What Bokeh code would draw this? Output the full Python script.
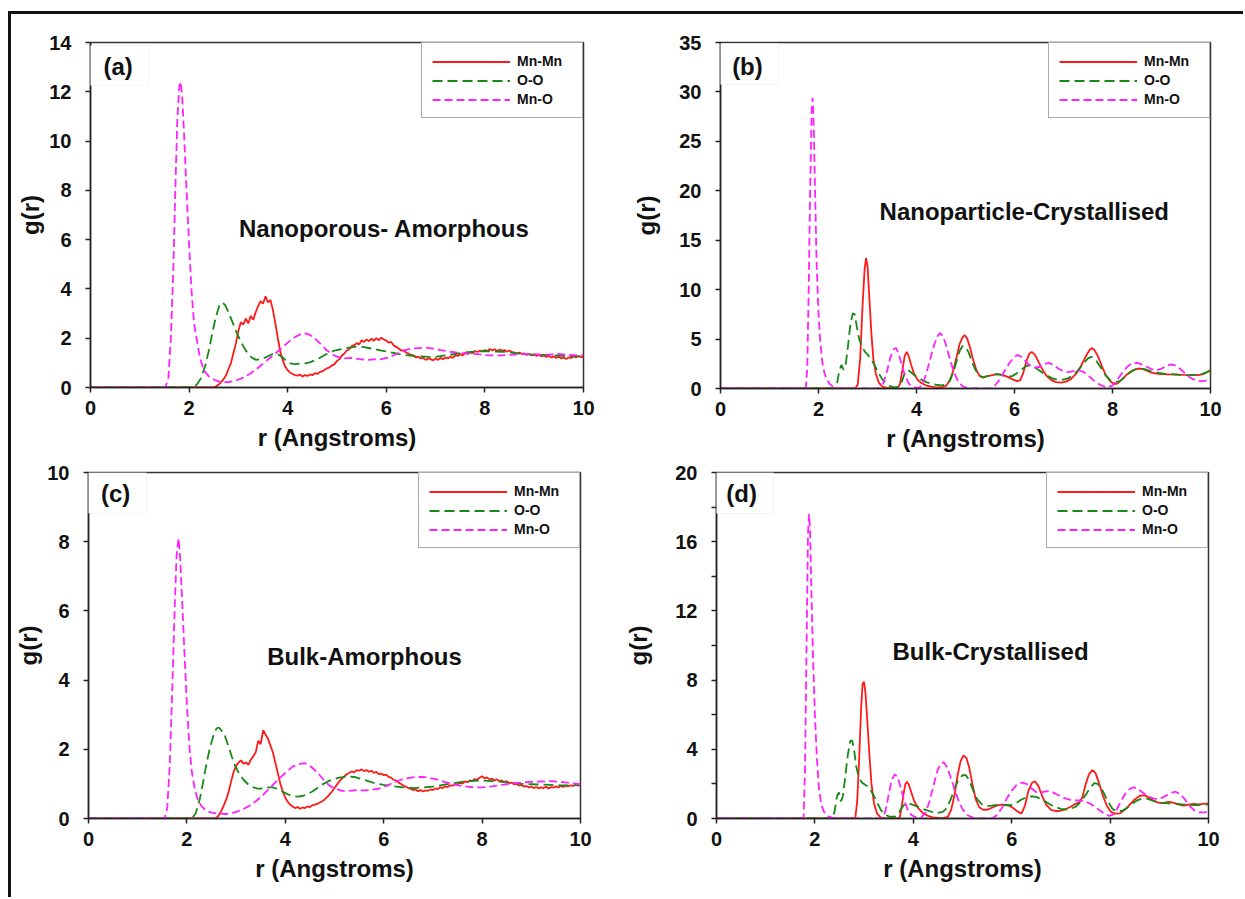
from bokeh.plotting import figure
from bokeh.models import (Range1d, FixedTicker, Label, BoxAnnotation, Legend,
                          LegendItem)
from bokeh.layouts import column, row
from bokeh.embed import file_html
from bokeh.resources import INLINE

FONT = "Liberation Sans"
INK = "#111111"
RED = "#ff1a1a"
GREEN = "#168a16"
MAGENTA = "#ff22ff"

SERIES_NAMES = ["Mn-Mn", "O-O", "Mn-O"]
PANEL_TAGS = ["(a)", "(b)", "(c)", "(d)"]
PANEL_TITLES = ["Nanoporous- Amorphous", "Nanoparticle-Crystallised",
                "Bulk-Amorphous", "Bulk-Crystallised"]
X_TICKS = [0, 2, 4, 6, 8, 10]

# sampling grid used for the noisy amorphous Mn-Mn curves (2.50 .. 10.00 A)
r_fine = [round(2.5 + 0.05 * i, 2) for i in range(151)]

# ---------------- (a) nanoporous, amorphous ----------------
mnmn_a_g = [
    0.0, 0.05, 0.12, 0.22, 0.34, 0.5, 0.75, 1.0, 1.4, 1.8,
    2.3, 2.65, 2.55, 2.8, 2.6, 2.9, 2.75, 3.05, 3.3, 3.5,
    3.4, 3.7, 3.45, 3.55, 3.15, 2.6, 2.0, 1.45, 1.1, 0.85,
    0.7, 0.6, 0.55, 0.5, 0.48, 0.52, 0.45, 0.5, 0.47, 0.53,
    0.5, 0.58, 0.55, 0.62, 0.65, 0.72, 0.78, 0.82, 0.9, 0.95,
    1.08, 1.15, 1.3, 1.38, 1.5, 1.55, 1.68, 1.72, 1.8, 1.75,
    1.92, 1.85, 1.95, 1.88, 1.98, 1.9, 2.0, 1.92, 2.02, 1.95,
    1.9, 1.82, 1.85, 1.7, 1.65, 1.58, 1.5, 1.52, 1.42, 1.38,
    1.32, 1.3, 1.22, 1.25, 1.18, 1.2, 1.12, 1.18, 1.15, 1.1,
    1.18, 1.12, 1.2, 1.15, 1.22, 1.18, 1.25, 1.2, 1.3, 1.28,
    1.35, 1.3, 1.4, 1.36, 1.42, 1.4, 1.48, 1.44, 1.5, 1.46,
    1.52, 1.48, 1.56, 1.5, 1.55, 1.48, 1.54, 1.5, 1.52, 1.45,
    1.5, 1.44, 1.42, 1.38, 1.42, 1.36, 1.38, 1.32, 1.36, 1.3,
    1.33, 1.28, 1.32, 1.26, 1.3, 1.24, 1.28, 1.22, 1.26, 1.2,
    1.25, 1.18, 1.22, 1.16, 1.22, 1.2, 1.26, 1.22, 1.27, 1.23,
    1.25,
]
oo_a = [
    (0, 0), (2.05, 0), (2.15, 0.1), (2.25, 0.4), (2.33, 0.9), (2.4, 1.5),
    (2.47, 2.2), (2.54, 2.85), (2.61, 3.3), (2.67, 3.45), (2.73, 3.35),
    (2.8, 3.05), (2.88, 2.65), (2.96, 2.25), (3.04, 1.9), (3.12, 1.6),
    (3.2, 1.35), (3.28, 1.2), (3.36, 1.12), (3.45, 1.15), (3.55, 1.22),
    (3.65, 1.32), (3.72, 1.38), (3.8, 1.35), (3.88, 1.25), (3.96, 1.1),
    (4.05, 0.98), (4.15, 0.95), (4.25, 0.97), (4.35, 0.98), (4.45, 1.02),
    (4.55, 1.1), (4.65, 1.2), (4.75, 1.32), (4.85, 1.42), (4.95, 1.5),
    (5.1, 1.56), (5.25, 1.62), (5.4, 1.66), (5.55, 1.64), (5.7, 1.58),
    (5.85, 1.52), (6.0, 1.46), (6.15, 1.4), (6.3, 1.34), (6.45, 1.3),
    (6.6, 1.27), (6.8, 1.25), (7.0, 1.24), (7.2, 1.3), (7.4, 1.36),
    (7.6, 1.42), (7.8, 1.46), (8.0, 1.48), (8.2, 1.46), (8.4, 1.45),
    (8.6, 1.4), (8.8, 1.36), (9.0, 1.33), (9.2, 1.32), (9.4, 1.3),
    (9.6, 1.28), (9.8, 1.27), (10.0, 1.28),
]
mno_a = [
    (0, 0), (1.52, 0), (1.58, 0.4), (1.63, 2.0), (1.68, 4.8), (1.72, 8.0),
    (1.76, 10.8), (1.8, 12.2), (1.83, 12.4), (1.86, 11.8), (1.9, 10.2),
    (1.95, 7.9), (2.0, 5.8), (2.05, 3.9), (2.1, 2.6), (2.16, 1.9),
    (2.22, 1.2), (2.3, 0.7), (2.4, 0.45), (2.52, 0.3), (2.65, 0.22),
    (2.8, 0.22), (2.95, 0.28), (3.1, 0.4), (3.25, 0.58), (3.4, 0.8),
    (3.55, 1.05), (3.7, 1.3), (3.85, 1.55), (4.0, 1.82), (4.15, 2.05),
    (4.3, 2.2), (4.4, 2.18), (4.5, 2.08), (4.6, 1.9), (4.7, 1.7),
    (4.8, 1.5), (4.9, 1.35), (5.0, 1.25), (5.15, 1.18), (5.3, 1.2),
    (5.45, 1.15), (5.6, 1.12), (5.75, 1.14), (5.9, 1.15), (6.05, 1.22),
    (6.2, 1.35), (6.35, 1.5), (6.5, 1.58), (6.65, 1.6), (6.8, 1.62),
    (6.95, 1.58), (7.1, 1.52), (7.3, 1.45), (7.5, 1.4), (7.7, 1.38),
    (7.9, 1.34), (8.1, 1.3), (8.3, 1.3), (8.5, 1.32), (8.7, 1.35),
    (8.9, 1.36), (9.1, 1.34), (9.3, 1.33), (9.5, 1.36), (9.7, 1.32),
    (9.9, 1.3), (10.0, 1.32),
]

# ---------------- (b) nanoparticle, crystallised ----------------
mnmn_b = [
    (0, 0), (2.75, 0), (2.8, 0.4), (2.85, 3.0), (2.9, 8.5), (2.94, 12.0),
    (2.97, 13.2), (3.0, 12.4), (3.04, 9.0), (3.08, 5.5), (3.12, 3.0),
    (3.17, 1.5), (3.23, 0.6), (3.3, 0.2), (3.4, 0.05), (3.6, 0),
    (3.66, 0.4), (3.71, 1.8), (3.76, 3.3), (3.8, 3.7), (3.84, 3.3),
    (3.89, 2.4), (3.95, 1.5), (4.02, 0.9), (4.1, 0.55), (4.2, 0.3),
    (4.3, 0.18), (4.4, 0.12), (4.5, 0.12), (4.6, 0.25), (4.68, 0.8),
    (4.75, 1.8), (4.82, 3.2), (4.88, 4.5), (4.94, 5.2), (4.98, 5.4),
    (5.03, 5.1), (5.09, 4.2), (5.15, 3.0), (5.22, 1.9), (5.29, 1.25),
    (5.36, 1.1), (5.45, 1.25), (5.55, 1.35), (5.65, 1.45), (5.75, 1.38),
    (5.85, 1.2), (5.95, 0.95), (6.05, 0.75), (6.12, 0.85), (6.18, 1.6),
    (6.24, 2.7), (6.3, 3.5), (6.35, 3.7), (6.42, 3.4), (6.5, 2.6),
    (6.58, 1.85), (6.66, 1.25), (6.75, 0.85), (6.85, 0.65), (6.95, 0.6),
    (7.05, 0.7), (7.15, 0.95), (7.25, 1.45), (7.35, 2.2), (7.45, 3.2),
    (7.53, 3.9), (7.58, 4.1), (7.63, 3.9), (7.7, 3.3), (7.78, 2.3),
    (7.86, 1.4), (7.95, 0.75), (8.03, 0.45), (8.1, 0.5), (8.2, 0.95),
    (8.3, 1.45), (8.4, 1.8), (8.5, 2.0), (8.6, 2.0), (8.7, 1.8),
    (8.8, 1.6), (8.9, 1.5), (9.0, 1.45), (9.15, 1.42), (9.3, 1.4),
    (9.45, 1.38), (9.6, 1.36), (9.75, 1.35), (9.85, 1.45), (9.95, 1.7),
    (10.0, 1.85),
]
oo_b = [
    (0, 0), (2.33, 0), (2.38, 0.6), (2.43, 1.9), (2.47, 2.4), (2.51, 1.9),
    (2.55, 2.2), (2.6, 4.2), (2.65, 6.5), (2.7, 7.6), (2.74, 7.5),
    (2.78, 6.3), (2.83, 5.0), (2.89, 4.2), (2.95, 3.7), (3.01, 3.4),
    (3.08, 2.9), (3.15, 2.3), (3.22, 1.6), (3.3, 0.95), (3.38, 0.5),
    (3.47, 0.22), (3.56, 0.12), (3.64, 0.2), (3.7, 0.7), (3.75, 1.4),
    (3.8, 1.85), (3.85, 1.8), (3.92, 1.5), (4.0, 1.2), (4.1, 0.9),
    (4.2, 0.65), (4.3, 0.48), (4.4, 0.38), (4.5, 0.32), (4.6, 0.4),
    (4.68, 0.8), (4.75, 1.6), (4.82, 2.8), (4.88, 3.8), (4.94, 4.3),
    (5.0, 4.2), (5.06, 3.7), (5.12, 2.9), (5.19, 2.0), (5.27, 1.35),
    (5.35, 1.15), (5.45, 1.25), (5.55, 1.4), (5.65, 1.45), (5.75, 1.35),
    (5.85, 1.2), (5.95, 1.25), (6.05, 1.55), (6.15, 1.95), (6.25, 2.3),
    (6.32, 2.35), (6.4, 2.2), (6.5, 1.85), (6.6, 1.5), (6.7, 1.2),
    (6.8, 0.98), (6.9, 0.88), (7.0, 0.9), (7.1, 1.05), (7.2, 1.35),
    (7.3, 1.85), (7.4, 2.5), (7.5, 3.05), (7.57, 3.2), (7.65, 2.95),
    (7.75, 2.2), (7.85, 1.4), (7.95, 0.85), (8.05, 0.65), (8.15, 0.75),
    (8.25, 1.15), (8.35, 1.6), (8.45, 1.9), (8.55, 2.0), (8.65, 1.95),
    (8.75, 1.8), (8.9, 1.6), (9.05, 1.5), (9.2, 1.45), (9.35, 1.4),
    (9.5, 1.36), (9.65, 1.35), (9.8, 1.4), (9.9, 1.6), (10.0, 1.85),
]
mno_b = [
    (0, 0), (1.74, 0), (1.77, 2.0), (1.8, 10.0), (1.83, 20.0), (1.86, 28.0),
    (1.88, 29.4), (1.9, 27.0), (1.93, 20.0), (1.96, 13.0), (2.0, 7.5),
    (2.04, 4.5), (2.08, 2.6), (2.12, 1.6), (2.17, 0.9), (2.23, 0.45),
    (2.3, 0.2), (2.4, 0.05), (2.5, 0), (3.25, 0), (3.32, 0.5), (3.4, 1.8),
    (3.47, 3.2), (3.54, 4.0), (3.58, 4.1), (3.63, 3.6), (3.7, 2.4),
    (3.77, 1.2), (3.85, 0.45), (3.95, 0.12), (4.05, 0.05), (4.12, 0.4),
    (4.2, 1.5), (4.28, 3.0), (4.36, 4.4), (4.43, 5.3), (4.48, 5.6),
    (4.54, 5.3), (4.61, 4.3), (4.68, 3.0), (4.76, 1.7), (4.85, 0.7),
    (4.95, 0.2), (5.05, 0.05), (5.15, 0), (5.5, 0), (5.6, 0.3), (5.7, 0.9),
    (5.8, 1.8), (5.9, 2.6), (6.0, 3.2), (6.06, 3.4), (6.14, 3.2),
    (6.22, 2.8), (6.32, 2.3), (6.42, 2.1), (6.52, 2.2), (6.62, 2.5),
    (6.7, 2.6), (6.8, 2.35), (6.9, 2.0), (7.0, 1.75), (7.1, 1.65),
    (7.2, 1.75), (7.3, 1.85), (7.4, 1.7), (7.5, 1.35), (7.6, 0.9),
    (7.7, 0.5), (7.8, 0.25), (7.9, 0.15), (8.0, 0.3), (8.1, 0.9),
    (8.2, 1.6), (8.3, 2.2), (8.4, 2.55), (8.5, 2.6), (8.6, 2.45),
    (8.7, 2.2), (8.8, 1.95), (8.9, 1.85), (9.0, 2.0), (9.1, 2.3),
    (9.2, 2.45), (9.3, 2.3), (9.4, 1.9), (9.5, 1.45), (9.6, 1.05),
    (9.7, 0.82), (9.8, 0.75), (9.9, 0.8), (10.0, 0.92),
]

# ---------------- (c) bulk, amorphous ----------------
mnmn_c_g = [
    0.0, 0.0, 0.02, 0.1, 0.22, 0.38, 0.55, 0.78, 1.08, 1.35,
    1.52, 1.62, 1.68, 1.58, 1.62, 1.55, 1.7, 1.8, 1.92, 2.25,
    2.15, 2.55, 2.42, 2.3, 2.1, 1.9, 1.6, 1.3, 1.0, 0.78,
    0.6, 0.48, 0.4, 0.35, 0.3, 0.33, 0.28, 0.32, 0.3, 0.35,
    0.33, 0.38, 0.4, 0.42, 0.46, 0.5, 0.55, 0.62, 0.7, 0.78,
    0.88, 0.98, 1.08, 1.15, 1.22, 1.28, 1.32, 1.36, 1.33, 1.4,
    1.38, 1.42, 1.37, 1.4, 1.35, 1.38, 1.32, 1.35, 1.28, 1.3,
    1.25, 1.27, 1.2, 1.18, 1.12, 1.1, 1.04, 1.0, 0.95, 0.92,
    0.88, 0.86, 0.82, 0.84, 0.79, 0.82, 0.78, 0.81, 0.8, 0.84,
    0.82, 0.87, 0.85, 0.9, 0.88, 0.93, 0.91, 0.96, 0.95, 0.99,
    0.98, 1.03, 1.01, 1.07, 1.05, 1.1, 1.08, 1.14, 1.12, 1.18,
    1.22, 1.16, 1.19, 1.13, 1.15, 1.1, 1.13, 1.08, 1.1, 1.05,
    1.08, 1.02, 1.04, 0.99, 1.0, 0.95, 0.97, 0.92, 0.94, 0.9,
    0.92, 0.88, 0.91, 0.87, 0.9, 0.88, 0.92, 0.87, 0.91, 0.89,
    0.93, 0.9, 0.94, 0.91, 0.95, 0.93, 0.96, 0.94, 0.97, 0.95,
    0.97,
]
oo_c = [
    (0, 0), (2.1, 0), (2.18, 0.15), (2.26, 0.55), (2.33, 1.05), (2.4, 1.6),
    (2.47, 2.05), (2.54, 2.4), (2.6, 2.6), (2.65, 2.63), (2.7, 2.55),
    (2.77, 2.4), (2.84, 2.1), (2.91, 1.8), (2.98, 1.52), (3.06, 1.3),
    (3.15, 1.12), (3.25, 0.98), (3.35, 0.9), (3.45, 0.86), (3.55, 0.87),
    (3.65, 0.9), (3.75, 0.9), (3.85, 0.85), (3.95, 0.77), (4.05, 0.7),
    (4.15, 0.65), (4.25, 0.63), (4.35, 0.65), (4.45, 0.7), (4.55, 0.78),
    (4.65, 0.88), (4.75, 0.98), (4.85, 1.06), (4.95, 1.12), (5.1, 1.18),
    (5.25, 1.22), (5.4, 1.2), (5.55, 1.14), (5.7, 1.07), (5.85, 1.01),
    (6.0, 0.97), (6.2, 0.93), (6.4, 0.9), (6.6, 0.88), (6.8, 0.9),
    (7.0, 0.92), (7.2, 0.97), (7.4, 1.02), (7.6, 1.06), (7.8, 1.09),
    (8.0, 1.1), (8.2, 1.08), (8.4, 1.06), (8.6, 1.03), (8.8, 1.0),
    (9.0, 0.99), (9.2, 0.98), (9.4, 0.97), (9.6, 0.96), (9.8, 0.96),
    (10.0, 0.97),
]
mno_c = [
    (0, 0), (1.55, 0), (1.6, 0.3), (1.65, 1.5), (1.7, 3.6), (1.75, 6.0),
    (1.79, 7.6), (1.83, 8.1), (1.86, 7.6), (1.9, 6.4), (1.95, 4.8),
    (2.0, 3.3), (2.05, 2.1), (2.1, 1.35), (2.16, 0.85), (2.22, 0.55),
    (2.3, 0.35), (2.4, 0.22), (2.52, 0.16), (2.65, 0.14), (2.8, 0.13),
    (2.95, 0.17), (3.1, 0.24), (3.25, 0.35), (3.4, 0.5), (3.55, 0.68),
    (3.7, 0.9), (3.85, 1.12), (4.0, 1.32), (4.15, 1.5), (4.3, 1.58),
    (4.4, 1.6), (4.5, 1.52), (4.6, 1.4), (4.7, 1.25), (4.8, 1.08),
    (4.9, 0.95), (5.0, 0.87), (5.15, 0.8), (5.3, 0.8), (5.45, 0.82),
    (5.6, 0.81), (5.75, 0.83), (5.9, 0.86), (6.05, 0.94), (6.2, 1.04),
    (6.35, 1.12), (6.5, 1.17), (6.65, 1.2), (6.8, 1.2), (6.95, 1.17),
    (7.1, 1.12), (7.25, 1.05), (7.4, 1.0), (7.55, 0.95), (7.7, 0.92),
    (7.85, 0.9), (8.0, 0.9), (8.2, 0.93), (8.4, 0.97), (8.6, 1.01),
    (8.8, 1.04), (9.0, 1.06), (9.2, 1.07), (9.4, 1.08), (9.6, 1.06),
    (9.8, 1.02), (10.0, 0.99),
]

# ---------------- (d) bulk, crystallised ----------------
mnmn_d = [
    (0, 0), (2.82, 0), (2.86, 1.0), (2.9, 3.5), (2.94, 6.4), (2.97, 7.8),
    (3.0, 7.9), (3.03, 7.2), (3.07, 5.4), (3.11, 3.6), (3.15, 2.0),
    (3.2, 0.9), (3.26, 0.3), (3.34, 0.05), (3.42, 0), (3.72, 0),
    (3.76, 0.6), (3.8, 1.4), (3.84, 2.0), (3.87, 2.12), (3.91, 1.95),
    (3.96, 1.5), (4.02, 1.0), (4.1, 0.6), (4.2, 0.3), (4.3, 0.15),
    (4.4, 0.06), (4.5, 0.03), (4.6, 0.02), (4.7, 0.1), (4.77, 0.5),
    (4.84, 1.4), (4.9, 2.5), (4.96, 3.3), (5.02, 3.65), (5.08, 3.5),
    (5.14, 2.9), (5.2, 2.0), (5.27, 1.1), (5.34, 0.65), (5.42, 0.5),
    (5.52, 0.52), (5.62, 0.65), (5.72, 0.77), (5.82, 0.8), (5.92, 0.78),
    (6.02, 0.62), (6.12, 0.4), (6.2, 0.3), (6.27, 0.75), (6.34, 1.6),
    (6.41, 2.05), (6.47, 2.15), (6.54, 1.9), (6.62, 1.3), (6.7, 0.8),
    (6.8, 0.5), (6.9, 0.42), (7.0, 0.45), (7.1, 0.55), (7.2, 0.68),
    (7.3, 0.85), (7.38, 0.95), (7.44, 1.25), (7.5, 1.95), (7.57, 2.55),
    (7.64, 2.8), (7.7, 2.65), (7.77, 2.1), (7.85, 1.35), (7.93, 0.75),
    (8.01, 0.4), (8.1, 0.28), (8.2, 0.3), (8.3, 0.5), (8.4, 0.8),
    (8.5, 1.1), (8.6, 1.3), (8.7, 1.35), (8.8, 1.2), (8.9, 1.0),
    (9.0, 0.9), (9.1, 0.92), (9.2, 0.96), (9.3, 0.9), (9.4, 0.8),
    (9.5, 0.75), (9.6, 0.8), (9.7, 0.85), (9.8, 0.82), (9.9, 0.85),
    (10.0, 0.88),
]
oo_d = [
    (0, 0), (2.35, 0), (2.4, 0.4), (2.45, 1.3), (2.49, 1.5), (2.53, 1.0),
    (2.57, 1.3), (2.62, 2.5), (2.67, 3.7), (2.72, 4.5), (2.76, 4.5),
    (2.8, 3.9), (2.84, 3.0), (2.89, 2.4), (2.95, 2.1), (3.02, 1.95),
    (3.08, 1.85), (3.14, 1.6), (3.2, 1.3), (3.27, 0.9), (3.34, 0.5),
    (3.42, 0.22), (3.52, 0.1), (3.62, 0.1), (3.7, 0.3), (3.77, 0.65),
    (3.84, 0.85), (3.9, 0.88), (3.98, 0.8), (4.08, 0.7), (4.2, 0.55),
    (4.3, 0.45), (4.4, 0.36), (4.5, 0.33), (4.6, 0.38), (4.68, 0.6),
    (4.76, 1.1), (4.84, 1.75), (4.92, 2.25), (5.0, 2.5), (5.07, 2.5),
    (5.14, 2.2), (5.22, 1.6), (5.3, 1.1), (5.4, 0.8), (5.5, 0.72),
    (5.6, 0.74), (5.7, 0.78), (5.8, 0.8), (5.9, 0.76), (6.0, 0.78),
    (6.1, 0.9), (6.2, 1.1), (6.3, 1.22), (6.4, 1.28), (6.5, 1.25),
    (6.6, 1.12), (6.7, 0.95), (6.8, 0.78), (6.9, 0.65), (7.0, 0.56),
    (7.1, 0.52), (7.2, 0.56), (7.3, 0.68), (7.4, 0.95), (7.5, 1.35),
    (7.6, 1.8), (7.68, 2.05), (7.75, 2.0), (7.85, 1.6), (7.95, 1.0),
    (8.05, 0.55), (8.15, 0.4), (8.25, 0.45), (8.35, 0.62), (8.45, 0.85),
    (8.55, 1.05), (8.65, 1.15), (8.75, 1.15), (8.85, 1.05), (8.95, 0.95),
    (9.05, 0.9), (9.2, 0.88), (9.35, 0.85), (9.5, 0.8), (9.65, 0.77),
    (9.8, 0.78), (10.0, 0.82),
]
mno_d = [
    (0, 0), (1.77, 0), (1.8, 3.0), (1.83, 10.0), (1.86, 16.5), (1.88, 17.6),
    (1.9, 16.8), (1.93, 13.0), (1.96, 9.5), (2.0, 6.0), (2.04, 3.5),
    (2.08, 1.8), (2.13, 0.8), (2.19, 0.35), (2.27, 0.12), (2.37, 0.03),
    (2.45, 0), (3.38, 0), (3.44, 0.5), (3.5, 1.4), (3.56, 2.2), (3.62, 2.55),
    (3.67, 2.45), (3.73, 1.95), (3.8, 1.2), (3.88, 0.55), (3.96, 0.2),
    (4.06, 0.05), (4.16, 0.05), (4.25, 0.35), (4.33, 1.0), (4.41, 1.9),
    (4.49, 2.75), (4.56, 3.2), (4.62, 3.25), (4.69, 2.95), (4.77, 2.3),
    (4.85, 1.6), (4.93, 0.95), (5.01, 0.5), (5.1, 0.2), (5.2, 0.06),
    (5.3, 0), (5.6, 0), (5.7, 0.2), (5.8, 0.6), (5.9, 1.15), (6.0, 1.6),
    (6.1, 1.95), (6.2, 2.08), (6.3, 2.0), (6.4, 1.75), (6.5, 1.52),
    (6.6, 1.5), (6.7, 1.58), (6.8, 1.55), (6.9, 1.42), (7.0, 1.28),
    (7.1, 1.15), (7.2, 1.08), (7.3, 1.05), (7.4, 1.04), (7.5, 0.98),
    (7.6, 0.85), (7.7, 0.65), (7.8, 0.45), (7.9, 0.25), (7.98, 0.15),
    (8.06, 0.22), (8.14, 0.55), (8.22, 1.0), (8.3, 1.4), (8.4, 1.72),
    (8.48, 1.8), (8.56, 1.72), (8.66, 1.5), (8.76, 1.3), (8.86, 1.18),
    (8.96, 1.12), (9.06, 1.2), (9.16, 1.35), (9.26, 1.5), (9.33, 1.55),
    (9.42, 1.42), (9.52, 1.1), (9.62, 0.72), (9.72, 0.45), (9.82, 0.35),
    (9.92, 0.35), (10.0, 0.4),
]


def split(pairs):
    return [p[0] for p in pairs], [p[1] for p in pairs]


def style_axes(p, y_label_standoff):
    for ax in (p.xaxis[0], p.yaxis[0]):
        ax.axis_line_color = "#222222"
        ax.axis_line_width = 1.5
        ax.major_tick_line_color = "#222222"
        ax.major_tick_line_width = 1.5
        ax.major_tick_in = 0
        ax.major_tick_out = 5
        ax.minor_tick_line_color = None
        ax.major_label_text_font = FONT
        ax.major_label_text_font_style = "bold"
        ax.major_label_text_font_size = "20px"
        ax.major_label_text_color = INK
        ax.axis_label_text_font = FONT
        ax.axis_label_text_font_style = "bold"
        ax.axis_label_text_font_size = "24px"
        ax.axis_label_text_color = INK
    p.xaxis.axis_label = "r (Angstroms)"
    p.yaxis.axis_label = "g(r)"
    p.xaxis.major_label_standoff = 8
    p.xaxis.axis_label_standoff = 6
    p.yaxis.major_label_standoff = 14
    p.yaxis.axis_label_standoff = y_label_standoff


def make_panel(idx, curves, y_max, y_ticks, y_labels, geom, tag_box, tag_xy,
               title_xy, y_label_standoff):
    left, top, fw, fh, right, bottom = geom
    p = figure(frame_width=fw, frame_height=fh,
               min_border_left=left, min_border_top=top,
               min_border_right=right, min_border_bottom=bottom,
               x_range=Range1d(0, 10), y_range=Range1d(0, y_max),
               output_backend="svg", toolbar_location=None, tools="")
    p.xgrid.visible = False
    p.ygrid.visible = False
    p.background_fill_color = "white"
    p.border_fill_color = "white"
    p.outline_line_color = "#333333"
    p.outline_line_width = 1.5

    style_axes(p, y_label_standoff)
    p.xaxis.ticker = FixedTicker(ticks=X_TICKS)
    p.yaxis.ticker = FixedTicker(ticks=y_ticks)
    if y_labels is not None:
        p.yaxis.major_label_overrides = y_labels

    (r_mm, g_mm), (r_oo, g_oo), (r_mo, g_mo) = curves
    l_mm = p.line(r_mm, g_mm, line_color=RED, line_width=1.8)
    l_oo = p.line(r_oo, g_oo, line_color=GREEN, line_width=1.8,
                  line_dash="10 5")
    l_mo = p.line(r_mo, g_mo, line_color=MAGENTA, line_width=1.8,
                  line_dash="8 4")

    legend = Legend(
        items=[LegendItem(label=SERIES_NAMES[0], renderers=[l_mm]),
               LegendItem(label=SERIES_NAMES[1], renderers=[l_oo]),
               LegendItem(label=SERIES_NAMES[2], renderers=[l_mo])],
        location="top_right", margin=0, padding=10, spacing=3,
        glyph_width=78, glyph_height=15, label_height=15, label_width=55,
        label_standoff=7, label_text_font=FONT, label_text_font_style="bold",
        label_text_font_size="14px", label_text_color=INK,
        border_line_color="#555555", border_line_width=1.3,
        background_fill_color="white", background_fill_alpha=1.0)
    p.add_layout(legend)

    bl, br, bt, bb = tag_box
    p.add_layout(BoxAnnotation(left=bl, right=br, top=bt, bottom=bb,
                               fill_color="white", fill_alpha=1.0,
                               line_color="#d6d6d6", line_width=1))
    p.add_layout(Label(x=tag_xy[0], y=tag_xy[1], text=PANEL_TAGS[idx],
                       text_align="center", text_baseline="middle",
                       text_font=FONT, text_font_style="bold",
                       text_font_size="24px", text_color=INK))
    p.add_layout(Label(x=title_xy[0], y=title_xy[1], text=PANEL_TITLES[idx],
                       text_align="center", text_baseline="middle",
                       text_font=FONT, text_font_style="bold",
                       text_font_size="24px", text_color=INK))
    return p


curves_a = (([0.0] + r_fine, [0.0] + mnmn_a_g), split(oo_a), split(mno_a))
curves_b = (split(mnmn_b), split(oo_b), split(mno_b))
curves_c = (([0.0] + r_fine, [0.0] + mnmn_c_g), split(oo_c), split(mno_c))
curves_d = (split(mnmn_d), split(oo_d), split(mno_d))

# geometry: (left, top, frame width, frame height, right, bottom) in px
fa = make_panel(0, curves_a, 14, [0, 2, 4, 6, 8, 10, 12, 14], None,
                (79, 28, 493, 345, 45, 72),
                (-0.04, 1.18, 13.87, 12.26), (0.56, 13.02), (5.96, 6.45), 2)
fb = make_panel(1, curves_b, 35, [0, 5, 10, 15, 20, 25, 30, 35], None,
                (92, 22, 490, 346, 33, 77),
                (-0.06, 1.18, 34.9, 30.74), (0.55, 32.56), (6.2, 17.9), 16)
fc = make_panel(2, curves_c, 10, [0, 2, 4, 6, 8, 10], None,
                (77, 13, 492, 346, 40, 79),
                (-0.04, 1.18, 10.0, 8.82), (0.55, 9.39), (5.61, 4.68), 2)
fd = make_panel(3, curves_d, 20, list(range(0, 21, 2)),
                {2: "", 6: "", 10: "", 14: "", 18: ""},
                (96, 13, 492, 346, 35, 79),
                (-0.04, 1.16, 20.0, 17.63), (0.51, 18.79), (5.57, 9.65), 20)

page = column(row(fa, fb), row(fc, fd),
              styles={"margin-left": "8px", "margin-top": "11px",
                      "border-left": "3px solid #111111",
                      "border-top": "3px solid #111111"})

open("out.html", "w").write(file_html(page, INLINE))
